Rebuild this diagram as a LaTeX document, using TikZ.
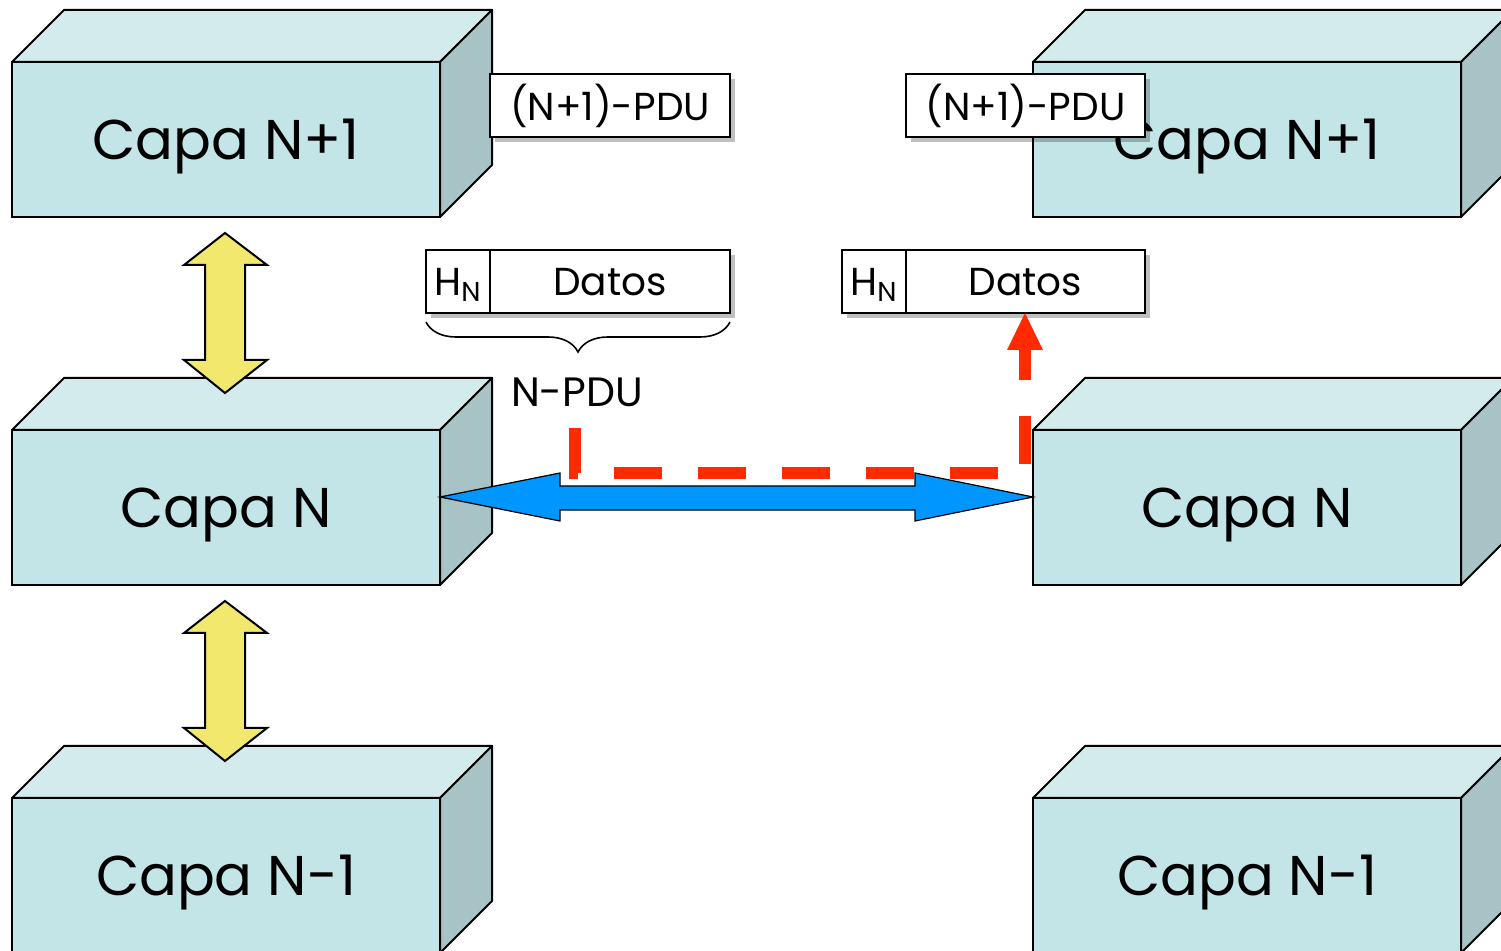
\documentclass[tikz,border=0pt]{standalone}
\usepackage{fontspec}
\setmainfont{Poppins}
\usetikzlibrary{shadows,decorations.pathreplacing,calc}
\definecolor{frontc}{HTML}{C4E5E7}
\definecolor{topc}{HTML}{D3EBEC}
\definecolor{sidec}{HTML}{A8C3C5}
\definecolor{yel}{HTML}{F2E86E}
\definecolor{blu}{HTML}{0096FF}
\definecolor{redd}{HTML}{FF2A00}
\tikzset{
  front/.style={draw=black, line width=1pt, fill=frontc, minimum width=214pt, minimum height=77.5pt, inner sep=0pt, outer sep=0pt, text depth=0pt, font=\fontsize{28}{30}\selectfont},
  topface/.style={draw=black, line width=1pt, fill=topc, line join=round},
  sideface/.style={draw=black, line width=1pt, fill=sidec, line join=round},
  pdubox/.style={draw=black, line width=0.8pt, fill=white, minimum height=31.5pt, inner sep=0pt, outer sep=0pt, font=\fontsize{19.5}{22}\selectfont, drop shadow={shadow xshift=2.5pt, shadow yshift=-2.5pt, opacity=0.25, fill=black}},
  yarrow/.style={draw=black, line width=1pt, fill=yel, line join=miter},
  barrow/.style={draw=black, line width=0.6pt, fill=blu, line join=miter},
  rdash/.style={draw=redd, line width=6pt, dash pattern=on 24pt off 18pt},
}
\begin{document}
\begin{tikzpicture}[x=0.5pt,y=-0.5pt]
\useasboundingbox (0,0) rectangle (1501,951);
\clip (0,0) rectangle (1501,951);
% boxes
\foreach \nm/\cx/\cy/\txt in {lA/226/139.5/{Capa N+1}, lB/226/507.5/{Capa N}, lC/226/875.5/{Capa N-1}, rA/1247/139.5/{Capa N+1}, rB/1247/507.5/{Capa N}, rC/1247/875.5/{Capa N-1}}{
  \node[front] (\nm) at (\cx,\cy) {\txt};
  \draw[topface] (\nm.north west) -- ++(52,-52) -- ++(428,0) -- (\nm.north east) -- cycle;
  \draw[sideface] (\nm.north east) -- ++(52,-52) -- ++(0,155) -- (\nm.south east) -- cycle;
}
% PDU boxes
\node[pdubox, minimum width=120pt] (lpdu) at (610,105.5) {(N+1)-PDU};
\node[pdubox, minimum width=119.5pt] (rpdu) at (1025.5,105.5) {(N+1)-PDU};
\node[pdubox, minimum width=32pt, text depth=0pt] (lh) at (458,281.5) {H\textsubscript{N}};
\node[pdubox, minimum width=120pt, text depth=0pt, anchor=west] (ld) at (lh.east) {Datos};
\node[pdubox, minimum width=32pt, text depth=0pt] (rh) at (874,281.5) {H\textsubscript{N}};
\node[pdubox, minimum width=119.5pt, text depth=0pt, anchor=west] (rd) at (rh.east) {Datos};
% brace
\draw[line width=0.8pt, decorate, decoration={brace, mirror, amplitude=15pt}] (426,322) -- (730,322);
\node[font=\fontsize{20.5}{22}\selectfont, inner sep=0pt, text depth=0pt] (npdu) at (577,392) {N-PDU};
% yellow arrows
\draw[yarrow] (225,233) -- (267,265) -- (245,265) -- (245,360) -- (267,360) -- (225,393) -- (184,360) -- (205,360) -- (205,265) -- (184,265) -- cycle;
\draw[yarrow] (225,601) -- (267,633) -- (245,633) -- (245,728) -- (267,728) -- (225,761) -- (184,728) -- (205,728) -- (205,633) -- (184,633) -- cycle;
% blue arrow
\coordinate (bl) at ($(lB.north east)+(0,67)$);
\coordinate (br) at ($(rB.north west)+(0,67)$);
\draw[barrow] (bl) -- ++(120,-24) -- ++(0,13) -- ($(br)+(-118,-11)$) -- ++(0,-13) -- (br) -- ++(-118,24) -- ++(0,-11) -- ($(bl)+(120,13)$) -- ++(0,11) -- cycle;
% red dashed path
\coordinate (r0) at (575,428);
\coordinate (r1) at (575,473);
\coordinate (r2) at (1025,473);
\coordinate (r3) at (1025,350);
\draw[rdash] (r0) -- (r1) -- (r2) -- (r3);
\fill[redd] (1007,350) -- (1043,350) -- (rd.south -| r2) -- cycle;
\end{tikzpicture}
\end{document}
